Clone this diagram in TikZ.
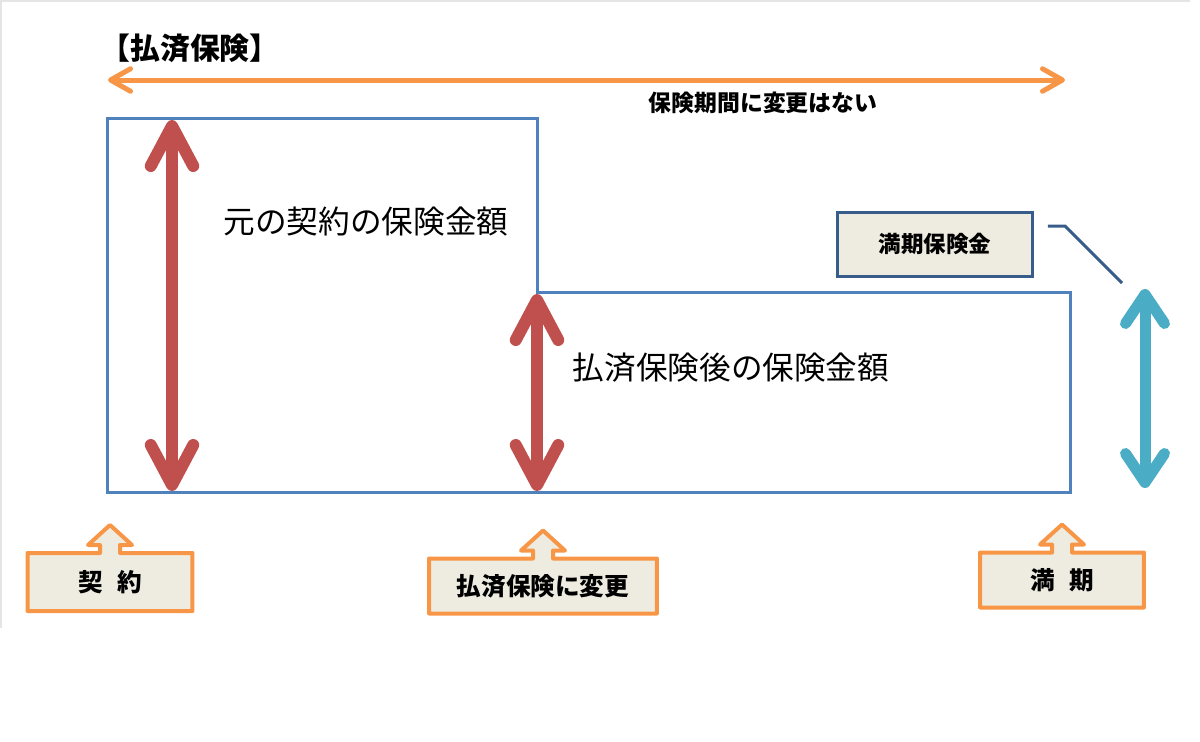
\documentclass[tikz,border=0pt]{standalone}
\usepackage{fontspec}
\setmainfont{Noto Sans CJK JP}
\usetikzlibrary{arrows.meta,backgrounds}

\definecolor{ofblue}{HTML}{4F81BD}
\definecolor{ofred}{HTML}{C0504D}
\definecolor{ofcyan}{HTML}{4BACC6}
\definecolor{oforange}{HTML}{F79646}
\definecolor{ofbeige}{HTML}{EEECE1}
\definecolor{ofnavy}{HTML}{385D8A}

\tikzset{
	outline/.style={draw=ofblue, line width=0.06cm},
	span/.style={draw=oforange, line width=0.1cm, {Straight Barb[round, length=0.4cm, width=0.45cm]}-{Straight Barb[round, length=0.4cm, width=0.45cm]}},
	amount/.style={draw=ofred, line width=0.24cm, {Straight Barb[round, length=0.8cm, width=0.85cm]}-{Straight Barb[round, length=0.8cm, width=0.85cm]}},
	payout/.style={draw=ofcyan, line width=0.22cm, {Straight Barb[round, length=0.58cm, width=0.78cm]}-{Straight Barb[round, length=0.58cm, width=0.78cm]}},
	label/.style={font=\fontsize{18}{20}\selectfont, inner sep=0pt},
	tag/.style={draw=ofnavy, fill=ofbeige, line width=0.06cm, minimum width=3.9cm, minimum height=1.28cm, font=\bfseries\fontsize{12.8}{14}\selectfont},
	lead/.style={draw=ofnavy, line width=0.06cm},
	callout/.style={inner sep=0pt, outer sep=0pt, font=\bfseries\fontsize{14}{16}\selectfont},
	calloutline/.style={draw=oforange, fill=ofbeige, line width=0.08cm, line join=round}
}

\begin{document}
\begin{tikzpicture}[x=0.02cm, y=-0.02cm]
			\useasboundingbox (0,0) rectangle (1200,741);

			% faint frame of the original
			\draw[gray!20, line width=0.03cm] (1,628) -- (1,1) -- (1190,1);

			% period of the policy
			\node[font=\bfseries\fontsize{17}{19}\selectfont, inner sep=0pt] (title) at (190,48) {【払済保険】};
			\coordinate (pstart) at (108,80);
			\coordinate (pend) at (1065,80);
			\draw[span] (pstart) -- (pend);
			\node[font=\bfseries\fontsize{13}{15}\selectfont, inner sep=0pt] (period) at (763,103) {保険期間に変更はない};

			% amounts
			\draw[outline] (107,118) -- (537,118) -- (537,292) -- (1070,292) -- (1070,492) -- (107,492) -- cycle;
			\coordinate (oldtop) at (172,120);
			\coordinate (oldbot) at (172,491);
			\coordinate (newtop) at (537,294);
			\coordinate (newbot) at (537,491);
			\draw[amount] (oldtop) -- (oldbot);
			\draw[amount] (newtop) -- (newbot);
			\node[label] (oldamt) at (366,222) {元の契約の保険金額};
			\node[label] (newamt) at (731,368) {払済保険後の保険金額};

			% maturity benefit
			\node[tag] (maturity) at (935,244) {満期保険金};
			\coordinate (paytop) at (1145,289);
			\coordinate (paybot) at (1145,488);
			\coordinate (leadend) at (1122,283);
			\draw[payout] (paytop) -- (paybot);
			\draw[lead] ([xshift=0.28cm, yshift=0.36cm]maturity.east) -- ++(17,0) -- (leadend);

			% milestones
			\node[callout, minimum width=3.3cm, minimum height=1.16cm] (start) at (110,582) {契\hspace{8pt}約};
			\node[callout, minimum width=4.56cm, minimum height=1.1cm] (change) at (543,586) {払済保険に変更};
			\node[callout, minimum width=3.28cm, minimum height=1.1cm] (end) at (1062,580) {満\hspace{8pt}期};
			\begin{scope}[on background layer]
				\foreach \c in {start, change, end}
					\draw[calloutline] (\c.north west) -- ([xshift=-0.2cm]\c.north) -- ++(0,-8) -- ++(-12,0)
						-- ++(22,-20) -- ++(22,20) -- ++(-12,0) -- ++(0,8) -- (\c.north east)
						-- (\c.south east) -- (\c.south west) -- cycle;
			\end{scope}

		\end{tikzpicture}
\end{document}
